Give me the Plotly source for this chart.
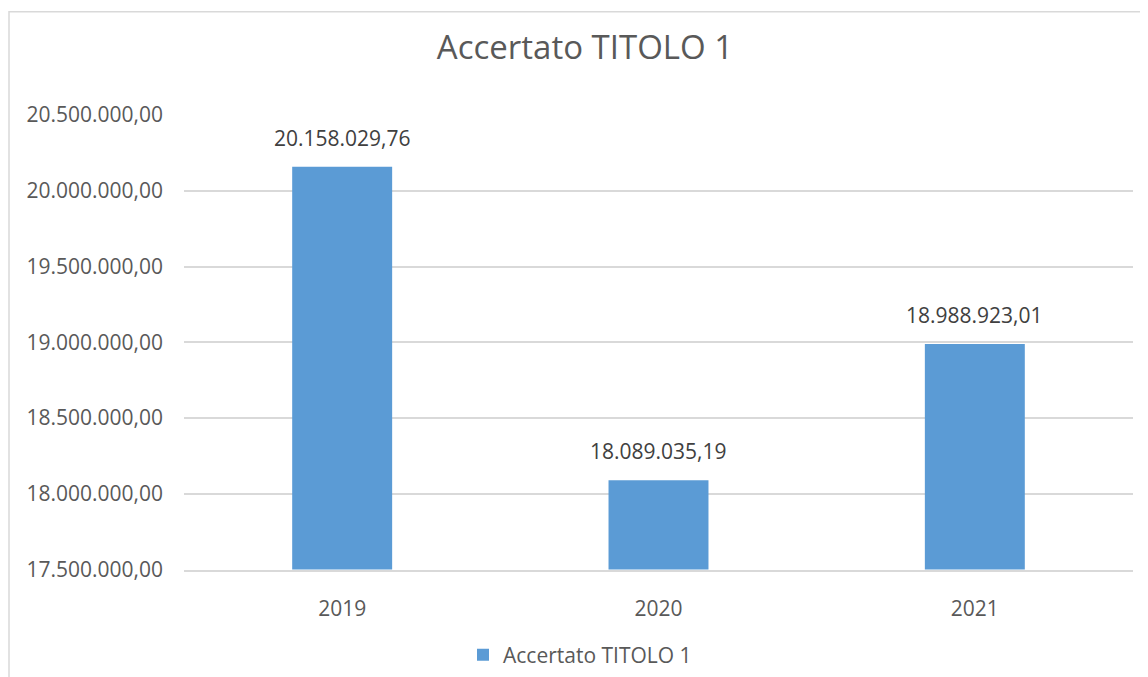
import plotly.graph_objects as go

categories = ["2019", "2020", "2021"]
values = [20158029.76, 18089035.19, 18988923.01]
series_name = "Accertato TITOLO 1"
title_text = "Accertato TITOLO 1"

FONT = "Open Sans, Noto Sans, sans-serif"
TXT = "#595959"

W, H = 1140, 669
L, T, R, B = 176, 107, 15, 100
PW, PH = W - L - R, H - T - B

fig = go.Figure()
fig.add_trace(go.Bar(
    x=categories, y=values, name=series_name,
    marker=dict(color="#5B9BD5", line=dict(width=0)),
))

def fmt(v):
    s = f"{v:,.2f}"
    return s.replace(",", "X").replace(".", ",").replace("X", ".")

for i, v in enumerate(values):
    fig.add_annotation(x=i, y=v, text=fmt(v), showarrow=False,
                       xref="x", yref="y", yanchor="middle", yshift=29,
                       font=dict(size=21, color="#404040", family=FONT))

fig.update_layout(
    width=W, height=H,
    paper_bgcolor="white", plot_bgcolor="white",
    separators=",.",
    margin=dict(l=L, r=R, t=T, b=B),
    title=dict(text=title_text, x=577/W, xanchor="center", y=1-39/H, yanchor="middle",
               xref="container", yref="container",
               font=dict(size=33, color=TXT, family=FONT)),
    bargap=0.684,
    showlegend=True,
    legend=dict(orientation="h", x=572/W, xanchor="center", xref="container",
                y=1-647/H, yanchor="middle", yref="container",
                font=dict(size=21, color=TXT, family=FONT)),
    font=dict(family=FONT, color=TXT),
)
fig.update_yaxes(range=[17500000, 20500000], dtick=500000, tickformat=",.2f",
                 showgrid=True, gridcolor="#D9D9D9", gridwidth=1.5,
                 zeroline=False, showline=False,
                 tickfont=dict(size=21, color=TXT, family=FONT),
                 ticklabelstandoff=20)
fig.update_xaxes(type="category", range=[-0.5, len(categories) - 0.5],
                 showline=True, linecolor="#D9D9D9", linewidth=1.5,
                 tickfont=dict(size=21, color=TXT, family=FONT),
                 ticklabelstandoff=20, ticks="")

fig.add_shape(type="rect", xref="paper", yref="paper",
              x0=(1 - L) / PW, x1=1.05, y0=-0.3, y1=1 + (T - 2) / PH,
              line=dict(color="#D9D9D9", width=1.5), fillcolor="rgba(0,0,0,0)", layer="below")

fig.write_html("out.html")
